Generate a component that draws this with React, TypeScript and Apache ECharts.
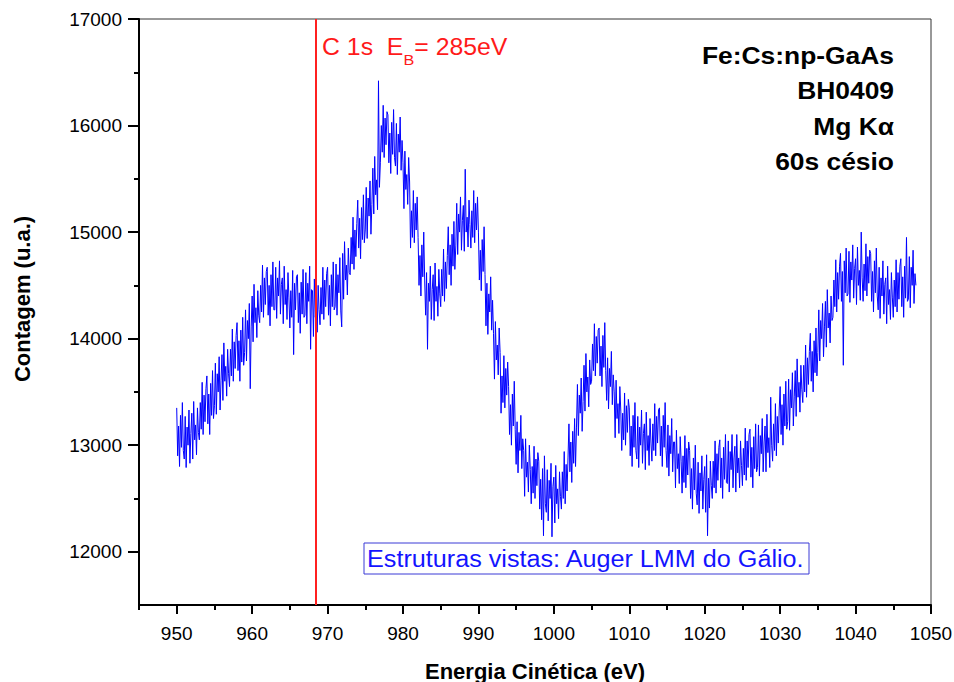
import React, { useEffect, useRef } from 'react';
import * as echarts from 'echarts';

// Sampling grid of the spectrum (kinetic energy, eV)
const E_START = 950;
const E_STEP = 0.125;

// Counts, 10 eV per segment (8 samples per eV)
const seg950 = [
  13350, 12900, 13180, 12800, 13280, 12980, 13400, 12950,
  12870, 13270, 12790, 13170, 13000, 13330, 12830, 13110,
  13300, 12870, 13410, 13050, 13190, 12910, 13350, 13120,
  13050, 13400, 13150, 13590, 13100, 13470, 13220, 13530,
  13650, 13200, 13480, 13100, 13580, 13280, 13700, 13250,
  13370, 13770, 13290, 13670, 13500, 13830, 13330, 13610,
  13850, 13420, 13960, 13600, 13740, 13460, 13900, 13670,
  13550, 13900, 13650, 14090, 13600, 13970, 13720, 14030,
  14150, 13700, 13980, 13600, 14080, 13780, 14200, 13750,
  13870, 14270, 13790, 14170, 14000, 14330, 13530, 14110,
];
const seg960 = [
  14400, 13970, 14510, 14150, 14290, 14010, 14450, 14220,
  14150, 14500, 14250, 14690, 14200, 14570, 14320, 14630,
  14670, 14220, 14500, 14120, 14600, 14300, 14720, 14270,
  14270, 14670, 14190, 14570, 14400, 14730, 14230, 14510,
  14570, 14140, 14680, 14320, 14460, 14180, 14620, 14390,
  14100, 14450, 14200, 14640, 13850, 14520, 14270, 14580,
  14600, 14150, 14430, 14050, 14530, 14230, 14650, 14200,
  14220, 14620, 14140, 14520, 14350, 14680, 13900, 14460,
  14450, 14020, 14560, 14200, 14340, 14060, 14500, 14270,
  14130, 14480, 14230, 14670, 14180, 14550, 14300, 14610,
];
const seg970 = [
  14670, 14220, 14500, 14120, 14600, 14300, 14720, 14270,
  14300, 14700, 14220, 14600, 14430, 14760, 14260, 14110,
  14800, 14370, 14910, 14550, 14690, 14410, 14850, 14620,
  14600, 14950, 14700, 15140, 14650, 15020, 14770, 15080,
  15300, 14850, 15130, 14750, 15230, 14930, 15350, 14900,
  15020, 15420, 14940, 15320, 15150, 15480, 14980, 15260,
  15600, 15170, 15710, 15350, 15490, 15210, 16420, 15420,
  15650, 16000, 15750, 16190, 15700, 16070, 15820, 16130,
  16100, 15650, 15930, 15550, 16030, 15730, 16150, 15700,
  15620, 16020, 15540, 15920, 15750, 16080, 15580, 15860,
];
const seg980 = [
  15650, 15220, 15760, 15400, 15540, 15260, 15700, 15470,
  14850, 15200, 14950, 15390, 14900, 15270, 15020, 15330,
  14950, 14500, 14780, 14400, 14880, 14580, 15000, 14550,
  14220, 14620, 13900, 14520, 14350, 14680, 14180, 14460,
  14600, 14170, 14710, 14350, 14490, 14210, 14650, 14420,
  14300, 14650, 14400, 14840, 14350, 14720, 14470, 14780,
  15050, 14600, 14880, 14500, 14980, 14680, 15100, 14650,
  14870, 15270, 14790, 15170, 15000, 15330, 14830, 15110,
  15250, 14820, 15590, 15000, 15140, 14860, 15300, 15070,
  14850, 15200, 14950, 15390, 14900, 15270, 15020, 15330,
];
const seg990 = [
  15000, 14550, 14830, 14450, 14930, 14630, 15050, 14600,
  14120, 14520, 14040, 14420, 14250, 14580, 14080, 14360,
  14050, 13620, 14160, 13800, 13940, 13660, 14100, 13870,
  13300, 13650, 13400, 13840, 13350, 13720, 13470, 13780,
  13550, 13100, 13380, 13000, 13480, 13180, 13600, 13150,
  12820, 13220, 12740, 13120, 12950, 13280, 12780, 13060,
  12950, 12520, 13060, 12700, 12840, 12560, 13000, 12770,
  12450, 12800, 12550, 12990, 12500, 12870, 12620, 12930,
  12850, 12400, 12680, 12300, 12780, 12150, 12900, 12450,
  12370, 12770, 12290, 12670, 12500, 12830, 12140, 12610,
];
const seg1000 = [
  12700, 12270, 12810, 12450, 12590, 12310, 12750, 12520,
  12400, 12750, 12500, 12940, 12450, 12820, 12570, 12880,
  13200, 12750, 13030, 12650, 13130, 12830, 13250, 12800,
  13170, 13570, 13090, 13470, 13300, 13630, 13130, 13410,
  13750, 13320, 13860, 13500, 13640, 13360, 13800, 13570,
  13600, 13950, 13700, 14140, 13650, 14020, 13770, 14080,
  14100, 13650, 13930, 13550, 14030, 13730, 14150, 13700,
  13420, 13820, 13340, 13720, 13550, 13880, 13380, 13660,
  13500, 13070, 13610, 13250, 13390, 13110, 13550, 13320,
  12950, 13300, 13050, 13490, 13000, 13370, 13120, 13430,
];
const seg1010 = [
  13350, 12900, 13180, 12800, 13280, 12980, 13400, 12950,
  12870, 13270, 12790, 13170, 13000, 13330, 12830, 13110,
  13200, 12770, 13310, 12950, 13090, 12810, 13250, 13020,
  12850, 13200, 12950, 13390, 12900, 13270, 13020, 13330,
  13350, 12900, 13180, 12800, 13280, 12980, 13400, 12950,
  12790, 13190, 12710, 13090, 12920, 13250, 12750, 13030,
  13030, 12600, 13140, 12780, 12920, 12640, 13080, 12850,
  12550, 12900, 12650, 13090, 12600, 12970, 12720, 13030,
  12950, 12500, 12780, 12400, 12880, 12580, 13000, 12550,
  12440, 12840, 12360, 12740, 12570, 12900, 12400, 12680,
];
const seg1020 = [
  12800, 12370, 12910, 12150, 12690, 12410, 12850, 12620,
  12500, 12850, 12600, 13040, 12550, 12920, 12670, 12980,
  13050, 12600, 12880, 12500, 12980, 12680, 13100, 12650,
  12640, 13040, 12560, 12940, 12770, 13100, 12600, 12880,
  12990, 12560, 13100, 12740, 12880, 12600, 13040, 12810,
  12620, 12970, 12720, 13160, 12670, 13040, 12790, 13100,
  13150, 12700, 12980, 12600, 13080, 12780, 13200, 12750,
  12790, 13190, 12710, 13090, 12920, 13250, 12750, 13030,
  13180, 12750, 13290, 12930, 13070, 12790, 13450, 13000,
  12850, 13200, 12950, 13390, 12900, 13270, 13020, 13330,
];
const seg1030 = [
  13550, 13100, 13380, 13000, 13480, 13180, 13600, 13150,
  13220, 13620, 13140, 13520, 13350, 13680, 13180, 13460,
  13700, 13270, 13810, 13450, 13590, 13310, 13750, 13520,
  13400, 13750, 13500, 13940, 13450, 13820, 13570, 13880,
  14050, 13600, 13880, 13500, 13980, 13680, 14100, 13650,
  13870, 14270, 13790, 14170, 14000, 14330, 13830, 14110,
  14350, 13920, 14460, 14100, 14240, 13960, 14400, 14170,
  14200, 14550, 14300, 14740, 14250, 14620, 14370, 14680,
  14800, 14350, 14630, 13750, 14730, 14430, 14850, 14400,
  14420, 14820, 14340, 14720, 14550, 14880, 14380, 14660,
];
const seg1040 = [
  14750, 14320, 14860, 14500, 14640, 14360, 15000, 14570,
  14350, 14700, 14450, 14890, 14400, 14770, 14520, 14830,
  14800, 14350, 14630, 14250, 14730, 14430, 14850, 14400,
  14270, 14670, 14190, 14570, 14400, 14730, 14230, 14510,
  14570, 14140, 14680, 14320, 14460, 14180, 14620, 14390,
  14200, 14550, 14300, 14740, 14250, 14620, 14370, 14680,
  14750, 14300, 14580, 14200, 14680, 14380, 14950, 14350,
  14370, 14770, 14290, 14670, 14500, 14830, 14330, 14610,
  14500,
];

const xMajorTicks = [950, 960, 970, 980, 990, 1000, 1010, 1020, 1030, 1040, 1050];
const xMinorTicks = [945, 955, 965, 975, 985, 995, 1005, 1015, 1025, 1035, 1045];
const yMajorTicks = [12000, 13000, 14000, 15000, 16000, 17000];
const yMinorTicks = [12500, 13500, 14500, 15500, 16500];

const C1S_KE = 968.4;
const sampleInfo = ['Fe:Cs:np-GaAs', 'BH0409', 'Mg K\u03b1', '60s c\u00e9sio'];
const noteText = 'Estruturas vistas: Auger LMM do G\u00e1lio.';

const FONT = "'Liberation Sans', Arial, Helvetica, sans-serif";

export default function App() {
  const ref = useRef<HTMLDivElement>(null);

  useEffect(() => {
    if (!ref.current) return;
    const chart = echarts.init(ref.current, null, { renderer: 'svg' });
    const counts = [
      ...seg950, ...seg960, ...seg970, ...seg980, ...seg990,
      ...seg1000, ...seg1010, ...seg1020, ...seg1030, ...seg1040,
    ];
    const data = counts.map((v, i) => [E_START + i * E_STEP, v]);
    const plain = (v: number) => String(v);

    const infoTexts = sampleInfo.map((t, i) => ({
      type: 'text',
      x: 894,
      y: 55 + i * 35.5,
      scaleX: 1.1,
      style: {
        text: t,
        font: `bold 24px ${FONT}`,
        fill: '#000',
        align: 'right',
        textAlign: 'right',
        verticalAlign: 'middle',
        textVerticalAlign: 'middle',
      },
    }));

    const option: any = {
      animation: false,
      grid: {
        left: 139, right: 23, top: 19, bottom: 77,
        show: true, borderColor: '#333', borderWidth: 1,
        outerBoundsMode: 'none',
        containLabel: false,
      },
      xAxis: [
        {
          type: 'value', min: 945, max: 1050, position: 'bottom',
          axisLine: { show: true, onZero: false, lineStyle: { color: '#000', width: 2 } },
          axisTick: { show: true, customValues: xMajorTicks, length: 9, lineStyle: { color: '#000', width: 2 } },
          axisLabel: { customValues: xMajorTicks, formatter: plain, margin: 19, color: '#000', fontSize: 19, fontFamily: FONT },
          splitLine: { show: false },
          name: 'Energia Cin\u00e9tica (eV)',
          nameLocation: 'middle',
          nameGap: 55,
          nameTextStyle: { fontSize: 22, fontWeight: 'bold', color: '#000', fontFamily: FONT },
        },
        {
          type: 'value', min: 945, max: 1050, position: 'bottom',
          axisLine: { show: false, onZero: false },
          axisTick: { show: true, customValues: xMinorTicks, length: 5, lineStyle: { color: '#000', width: 2 } },
          axisLabel: { show: false },
          splitLine: { show: false },
        },
      ],
      yAxis: [
        {
          type: 'value', min: 11500, max: 17000, position: 'left',
          axisLine: { show: true, onZero: false, lineStyle: { color: '#000', width: 2 } },
          axisTick: { show: true, customValues: yMajorTicks, length: 11, lineStyle: { color: '#000', width: 2 } },
          axisLabel: { customValues: yMajorTicks, formatter: plain, margin: 17, color: '#000', fontSize: 19, fontFamily: FONT },
          splitLine: { show: false },
        },
        {
          type: 'value', min: 11500, max: 17000, position: 'left',
          axisLine: { show: false, onZero: false },
          axisTick: { show: true, customValues: yMinorTicks, length: 5, lineStyle: { color: '#000', width: 2 } },
          axisLabel: { show: false },
          splitLine: { show: false },
        },
      ],
      series: [
        {
          type: 'line',
          xAxisIndex: 0,
          yAxisIndex: 0,
          data,
          showSymbol: false,
          symbol: 'none',
          lineStyle: { color: '#0000ff', width: 1 },
          itemStyle: { color: '#0000ff' },
          markLine: {
            silent: true,
            symbol: ['none', 'none'],
            label: { show: false },
            lineStyle: { color: '#ff2020', width: 2, type: 'solid' },
            data: [{ xAxis: C1S_KE }],
          },
        },
      ],
      graphic: [
        ...infoTexts,
        {
          type: 'text',
          x: 322,
          y: 47,
          scaleX: 1.08,
          style: {
            text: '{n|C 1s  E}{s|B}{n|= 285eV}',
            verticalAlign: 'middle',
            textVerticalAlign: 'middle',
            fill: '#ff1a1a',
            rich: {
              n: { fontSize: 23, fontFamily: FONT, fill: '#ff1a1a', lineHeight: 40, verticalAlign: 'middle' },
              s: { fontSize: 15, fontFamily: FONT, fill: '#ff1a1a', lineHeight: 16, verticalAlign: 'bottom' },
            },
          },
        },
        {
          type: 'rect',
          shape: { x: 364, y: 543, width: 445, height: 31 },
          style: { fill: 'none', stroke: '#3b3bd6', lineWidth: 1 },
        },
        {
          type: 'text',
          x: 367,
          y: 559,
          scaleX: 1.095,
          style: {
            text: noteText,
            font: `23px ${FONT}`,
            fill: '#1414ff',
            verticalAlign: 'middle',
            textVerticalAlign: 'middle',
          },
        },
        {
          type: 'text',
          x: 22,
          y: 299,
          rotation: Math.PI / 2,
          style: {
            text: 'Contagem (u.a.)',
            font: `bold 22px ${FONT}`,
            fill: '#000',
            align: 'center',
            textAlign: 'center',
            verticalAlign: 'middle',
            textVerticalAlign: 'middle',
          },
        },
      ],
    };

    chart.setOption(option);
    return () => chart.dispose();
  }, []);

  return (
    <div
      ref={ref}
      style={{ position: 'fixed', left: 0, top: 0, width: 954, height: 682, background: '#fff' }}
    />
  );
}
